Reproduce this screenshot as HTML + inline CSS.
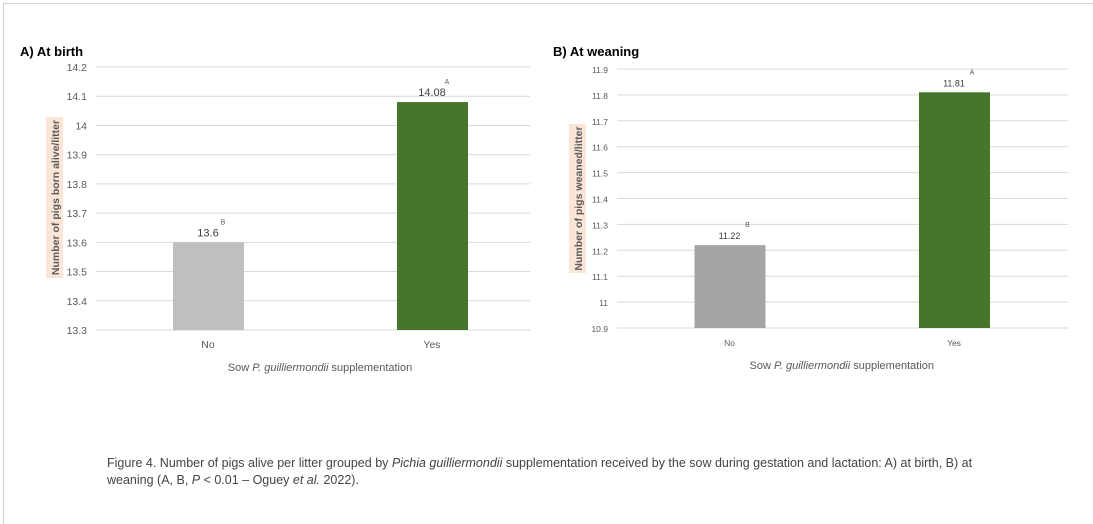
<!DOCTYPE html>
<html><head><meta charset="utf-8"><style>
body{margin:0;background:#fff;width:1093px;height:517px;overflow:hidden;font-family:"Liberation Sans",sans-serif}
#frame{position:absolute;left:3px;top:3px;width:1100px;height:520px;border-left:1px solid #d0d0d0;border-top:1px solid #d0d0d0}
.cap{position:absolute;left:107px;top:455px;width:890px;font-size:12.5px;line-height:17px;color:#444}
</style></head><body>
<div id="frame"></div>
<svg id="svg" width="1093" height="517" style="position:absolute;left:0;top:0"></svg>
<div class="cap">Figure 4. Number of pigs alive per litter grouped by <i>Pichia guilliermondii</i> supplementation received by the sow during gestation and lactation: A) at birth, B) at weaning (A, B, <i>P</i> &lt; 0.01 – Oguey <i>et al.</i> 2022).</div>
<script>
const categories=["No","Yes"];
const birthValues=[13.6,14.08];
const birthLetters=["B","A"];
const birthTicks=[13.3,13.4,13.5,13.6,13.7,13.8,13.9,14,14.1,14.2];
const weanValues=[11.22,11.81];
const weanLetters=["B","A"];
const weanTicks=[10.9,11,11.1,11.2,11.3,11.4,11.5,11.6,11.7,11.8,11.9];
const NS="http://www.w3.org/2000/svg";
const svg=document.getElementById('svg');
function mk(tag,attrs,text){const e=document.createElementNS(NS,tag);for(const k in attrs)e.setAttribute(k,attrs[k]);if(text!==undefined)e.textContent=text;svg.appendChild(e);return e;}
function chart(o){
  const y=v=>o.y0+(v-o.min)/(o.max-o.min)*(o.y1-o.y0);
  let t=mk('text',{x:o.titleX,y:56,'font-size':13,'font-weight':'bold',fill:'#000'},o.title);
  
  o.ticks.forEach(v=>{
    let l=mk('line',{x1:o.x0,x2:o.x1,y1:y(v),y2:y(v),stroke:'#d9d9d9','stroke-width':1});
    
    let tt=mk('text',{x:o.x0-9,y:y(v)+4,'font-size':o.tfs,'text-anchor':'end',fill:'#595959'},String(v));
    
  });
  categories.forEach((c,i)=>{
    const cx=o.c0+o.step*i,v=o.vals[i];
    let r=mk('rect',{x:cx-35,y:y(v),width:71,height:y(o.min)-y(v),fill:o.colors[i]});
    
    let vl=mk('text',{x:cx,y:y(v)-6,'font-size':o.vfs,'text-anchor':'middle',fill:'#404040'},String(v));
    
    let le=mk('text',{x:cx+o.letDx,y:y(v)-18,'font-size':7,'text-anchor':'middle',fill:'#595959'},o.letters[i]);
    
    let xl=mk('text',{x:cx,y:o.y0+18,'font-size':o.tfs,'text-anchor':'middle',fill:'#595959'},c);
    
  });
  let xt=mk('text',{x:o.c0+o.step/2,y:o.y0+41,'font-size':11,'text-anchor':'middle',fill:'#595959'});
  
  xt.innerHTML='Sow <tspan font-style="italic">P. guilliermondii</tspan> supplementation';
  let bg=mk('rect',{x:o.ytX-9,y:o.ytY0,width:17,height:o.ytY1-o.ytY0,fill:'#fbe5d6'});
  
  const my=(o.ytY0+o.ytY1)/2;
  let yt=mk('text',{x:o.ytX,y:my,'font-size':10.5,'font-weight':'bold','text-anchor':'middle',fill:'#595959',transform:`rotate(-90 ${o.ytX} ${my})`,dy:4},o.ytitle);
  
}
chart({id:'birth',title:'A) At birth',titleX:20,x0:96,x1:530,c0:208,step:224,y0:330,y1:67,min:13.3,max:14.2,ticks:birthTicks,vals:birthValues,letters:birthLetters,colors:['#bfbfbf','#48752c'],tfs:10.5,vfs:11,letDx:15,ytX:55,ytY0:117,ytY1:278,ytitle:'Number of pigs born alive/litter'});
chart({id:'wean',title:'B) At weaning',titleX:553,x0:617,x1:1068,c0:729.5,step:224.5,y0:328,y1:69,min:10.9,max:11.9,ticks:weanTicks,vals:weanValues,letters:weanLetters,colors:['#a5a5a5','#48752c'],tfs:8.5,vfs:9,letDx:18,ytX:578,ytY0:124,ytY1:273,ytitle:'Number of pigs weaned/litter'});
</script>
</body></html>
